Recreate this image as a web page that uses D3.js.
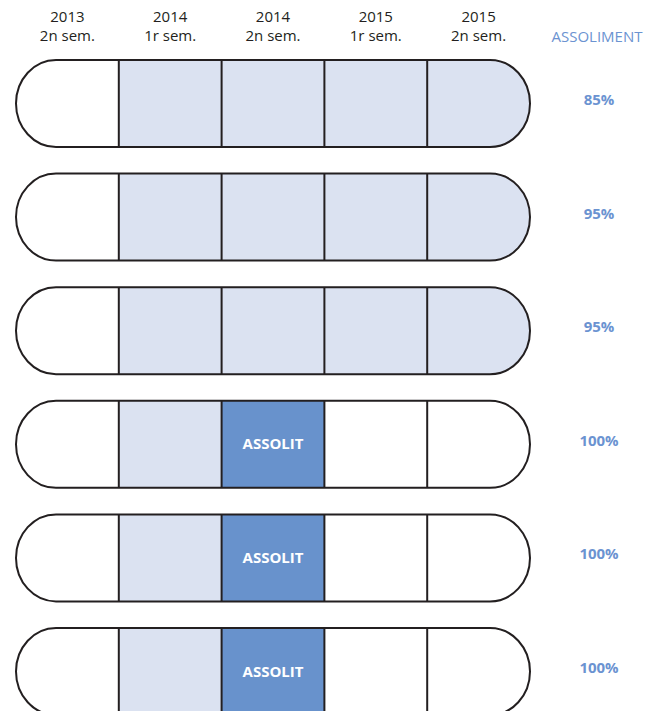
<!DOCTYPE html>
<html>
<head>
<meta charset="utf-8">
<script src="https://cdn.jsdelivr.net/npm/d3@7"></script>
<style>
  body { margin: 0; background: #fff; }
  svg { display: block; font-family: "Open Sans", "Noto Sans", sans-serif; }
</style>
</head>
<body>
<svg id="chart" width="648" height="711"></svg>
<script>
// column headers (two lines each)
const years = ["2013", "2014", "2014", "2015", "2015"];
const semesters = ["2n sem.", "1r sem.", "2n sem.", "1r sem.", "2n sem."];

// cell state per row: 0 = empty, 1 = light, 2 = ASSOLIT
const cellStates = [
    [0, 1, 1, 1, 1],
    [0, 1, 1, 1, 1],
    [0, 1, 1, 1, 1],
    [0, 1, 2, 0, 0],
    [0, 1, 2, 0, 0],
    [0, 1, 2, 0, 0]
];

// assoliment percentage per row
const assoliment = [85, 95, 95, 100, 100, 100];

const colors = {
    0: "#ffffff",
    1: "#dbe2f1",
    2: "#6892cc"
};
const textBlue = "#6b93d1";
const stroke = "#231f20";

const svg = d3.select("#chart");

/** Scales */
const xScale = d3.scaleLinear().domain([0, 5]).range([16, 530]);
const yScale = d3.scaleLinear().domain([0, 1]).range([60, 173.6]);
const pillHeight = 87;
const pillR = { rx: 40, ry: 43.5 };

// headers
const header = svg.append("g").attr("class", "header");
years.forEach((y, i) => {
    const cx = (xScale(i) + xScale(i + 1)) / 2;
    header.append("text")
        .attr("x", cx).attr("y", 22)
        .attr("text-anchor", "middle")
        .style("font-size", "15px").style("fill", "#231f20")
        .text(y);
    header.append("text")
        .attr("x", cx).attr("y", 40.5)
        .attr("text-anchor", "middle")
        .style("font-size", "15px").style("fill", "#231f20")
        .text(semesters[i]);
});

header.append("text")
    .attr("x", 597).attr("y", 41.5)
    .attr("text-anchor", "middle")
    .style("font-size", "15px").style("fill", textBlue)
    .text("ASSOLIMENT");

const defs = svg.append("defs");

// rows
cellStates.forEach((row, r) => {
    const top = yScale(r);
    const clipId = "clip" + r;
    defs.append("clipPath").attr("id", clipId)
        .append("rect")
        .attr("x", xScale(0)).attr("y", top)
        .attr("width", xScale(5) - xScale(0)).attr("height", pillHeight)
        .attr("rx", pillR.rx).attr("ry", pillR.ry);

    const g = svg.append("g").attr("class", "row");

    g.append("g").attr("clip-path", "url(#" + clipId + ")")
        .selectAll("rect")
        .data(row)
        .enter()
        .append("rect")
        .attr("x", (d, i) => xScale(i))
        .attr("y", top)
        .attr("width", (d, i) => xScale(i + 1) - xScale(i))
        .attr("height", pillHeight)
        .style("fill", d => colors[d]);

    // dividers
    g.selectAll("line")
        .data(d3.range(1, 5))
        .enter()
        .append("line")
        .attr("x1", d => xScale(d)).attr("x2", d => xScale(d))
        .attr("y1", top).attr("y2", top + pillHeight)
        .style("stroke", stroke).style("stroke-width", 2);

    // outline
    g.append("rect")
        .attr("x", xScale(0)).attr("y", top)
        .attr("width", xScale(5) - xScale(0)).attr("height", pillHeight)
        .attr("rx", pillR.rx).attr("ry", pillR.ry)
        .style("fill", "none").style("stroke", stroke).style("stroke-width", 2);

    // ASSOLIT labels
    g.selectAll("text.assolit")
        .data(row.map((d, i) => ({ d, i })).filter(c => c.d === 2))
        .enter()
        .append("text")
        .attr("class", "assolit")
        .attr("x", c => (xScale(c.i) + xScale(c.i + 1)) / 2)
        .attr("y", top + 48.5)
        .attr("text-anchor", "middle")
        .style("font-size", "15px").style("font-weight", "bold").style("fill", "#fff")
        .text("ASSOLIT");

    // percentage
    g.append("text")
        .attr("x", 599)
        .attr("y", top + 45)
        .attr("text-anchor", "middle")
        .style("font-size", "15px").style("font-weight", "bold").style("fill", textBlue)
        .text(assoliment[r] + "%");
});
</script>
</body>
</html>
